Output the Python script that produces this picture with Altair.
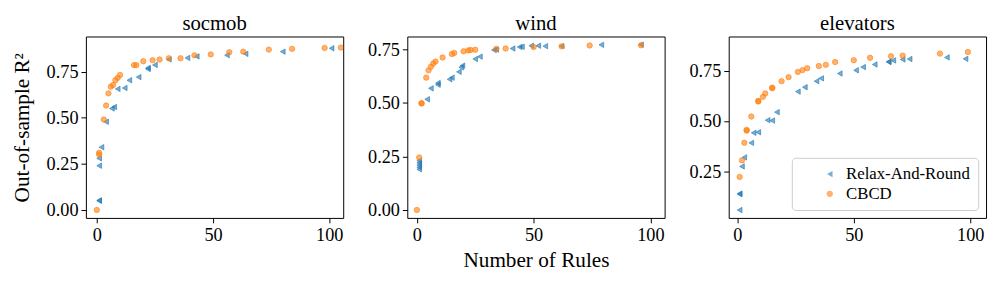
import altair as alt
import pandas as pd

datasets = ["socmob", "wind", "elevators"]
methods = ["Relax-And-Round", "CBCD"]
colors = ["#1f77b4", "#ff7f0e"]
shapes = ["triangle-left", "circle"]

# socmob
socmob_rar_x = [1, 1, 1, 1, 2, 4, 6.5, 7.5, 9, 12, 14, 18, 22, 22, 25, 31, 39, 43, 56, 64, 80, 101]
socmob_rar_y = [0.05, 0.052, 0.24, 0.28, 0.34, 0.478, 0.55, 0.558, 0.656, 0.661, 0.703, 0.72,
                0.764, 0.77, 0.786, 0.816, 0.824, 0.832, 0.839, 0.846, 0.858, 0.876]
socmob_cbcd_x = [0, 1, 1, 3, 4, 5, 6, 7, 8, 9, 10, 16, 17, 20, 24, 27, 31, 36, 42, 49, 57, 63, 74, 84, 98, 105]
socmob_cbcd_y = [0.0, 0.30, 0.31, 0.49, 0.566, 0.632, 0.668, 0.677, 0.703, 0.716, 0.732, 0.785, 0.785,
                 0.806, 0.812, 0.815, 0.822, 0.822, 0.838, 0.843, 0.855, 0.858, 0.869, 0.873, 0.878, 0.880]

# wind
wind_rar_x = [1, 1, 1, 1, 1, 4.4, 6, 9, 9, 14, 15, 18, 19, 19.5, 25, 27, 33, 34, 41, 44, 45, 49, 52, 55, 62, 79, 96]
wind_rar_y = [0.19, 0.20, 0.21, 0.22, 0.23, 0.517, 0.568, 0.585, 0.593, 0.61, 0.618, 0.645, 0.666, 0.674,
              0.705, 0.716, 0.747, 0.749, 0.754, 0.761, 0.762, 0.767, 0.767, 0.765, 0.765, 0.771, 0.772]
wind_cbcd_x = [0, 1, 2, 2, 4, 5, 6, 7, 8, 11, 15, 16, 20, 22, 23, 25, 34, 38, 50, 62, 74, 96]
wind_cbcd_y = [0.0, 0.245, 0.497, 0.499, 0.618, 0.652, 0.669, 0.684, 0.693, 0.712, 0.728, 0.733, 0.741,
               0.745, 0.747, 0.748, 0.752, 0.754, 0.761, 0.764, 0.768, 0.769]

# elevators
elev_rar_x = [1, 1, 1, 2, 3, 6, 7, 9, 13, 15, 17, 26, 29, 34, 36, 44, 51, 54, 59, 65, 65, 67, 71, 74, 90, 98]
elev_rar_y = [0.057, 0.136, 0.139, 0.274, 0.319, 0.391, 0.441, 0.444, 0.504, 0.502, 0.544, 0.646, 0.668,
              0.698, 0.712, 0.736, 0.752, 0.768, 0.781, 0.793, 0.795, 0.801, 0.806, 0.808, 0.816, 0.809]
elev_cbcd_x = [1, 2, 3, 4, 4, 6, 9, 9, 11, 12, 15, 15, 19, 22, 26, 28, 30, 35, 38, 42, 50, 57, 66, 71, 87, 99]
elev_cbcd_y = [0.222, 0.304, 0.392, 0.452, 0.456, 0.522, 0.597, 0.600, 0.62, 0.637, 0.663, 0.666, 0.698,
               0.718, 0.744, 0.753, 0.762, 0.773, 0.779, 0.793, 0.802, 0.814, 0.822, 0.825, 0.835, 0.843]

x_ticks = [0, 50, 100]
FONT = "Liberation Serif"


def make_df(rx, ry, cx, cy):
    return pd.DataFrame({
        "x": rx + cx,
        "y": ry + cy,
        "method": [methods[0]] * len(rx) + [methods[1]] * len(cx),
    })


def axis(values, title, fmt=None, title_pad=4):
    kw = dict(values=values, grid=False, domain=False, ticks=True, tickColor="black",
              tickSize=5, tickWidth=1, labelFont=FONT, labelFontSize=18.5, labelColor="black",
              labelPadding=3, titleFont=FONT, titleFontSize=21.5,
              titleFontWeight="normal", titleColor="black", titlePadding=title_pad)
    if fmt:
        kw["format"] = fmt
    kw["title"] = title if title else None
    return alt.Axis(**kw)


def panel(name, df, xdom, ydom, yvals, ytitle, xtitle, legend):
    leg = None
    if legend:
        leg = alt.Legend(title=None, orient="none", legendX=64, legendY=123,
                         fillColor="white", strokeColor="#cccccc", cornerRadius=4,
                         padding=8, labelFont=FONT, labelFontSize=17, labelColor="black",
                         symbolSize=40, rowPadding=2, labelOffset=8, symbolOffset=22,
                         symbolOpacity=0.6)
    cscale = alt.Scale(domain=methods, range=colors)
    return alt.Chart(df).mark_point(
        filled=True, size=30, opacity=1, fillOpacity=0.6, strokeOpacity=0.6,
        strokeWidth=1, clip=True
    ).encode(
        x=alt.X("x:Q", scale=alt.Scale(domain=xdom, nice=False, zero=False),
                axis=axis(x_ticks, xtitle, title_pad=6)),
        y=alt.Y("y:Q", scale=alt.Scale(domain=ydom, nice=False, zero=False),
                axis=axis(yvals, ytitle, ".2f", title_pad=13 if ytitle else 8)),
        color=alt.Color("method:N", scale=cscale, legend=leg),
        shape=alt.Shape("method:N", scale=alt.Scale(domain=methods, range=shapes), legend=leg),
        stroke=alt.Stroke("method:N", scale=cscale, legend=None),
    ).properties(width=261, height=184, title=name)


p1 = panel(datasets[0], make_df(socmob_rar_x, socmob_rar_y, socmob_cbcd_x, socmob_cbcd_y),
           [-4.7, 106], [-0.043, 0.94], [0, 0.25, 0.5, 0.75], "Out-of-sample R²", None, False)
p2 = panel(datasets[1], make_df(wind_rar_x, wind_rar_y, wind_cbcd_x, wind_cbcd_y),
           [-4.1, 106.1], [-0.037, 0.81], [0, 0.25, 0.5, 0.75], None, "Number of Rules", False)
p3 = panel(datasets[2], make_df(elev_rar_x, elev_rar_y, elev_cbcd_x, elev_cbcd_y),
           [-3.7, 106.8], [0.018, 0.92], [0.25, 0.5, 0.75], None, None, True)

chart = alt.hconcat(p1, p2, p3, spacing=23).resolve_legend(
    color="independent", shape="independent"
).configure(
    font=FONT,
    style={"guide-label": {"font": FONT, "fill": "black"},
           "guide-title": {"font": FONT, "fill": "black"}},
).configure_view(
    stroke="black", strokeWidth=1
).configure_axis(
    labelFont=FONT
).configure_legend(
    labelFont=FONT
).configure_title(
    font=FONT, fontSize=21, fontWeight="normal", color="black", offset=3
).properties(padding={"left": 3, "top": 2, "right": 2, "bottom": 2})

chart.save("out.html", embed_options={"renderer": "svg", "actions": False})
